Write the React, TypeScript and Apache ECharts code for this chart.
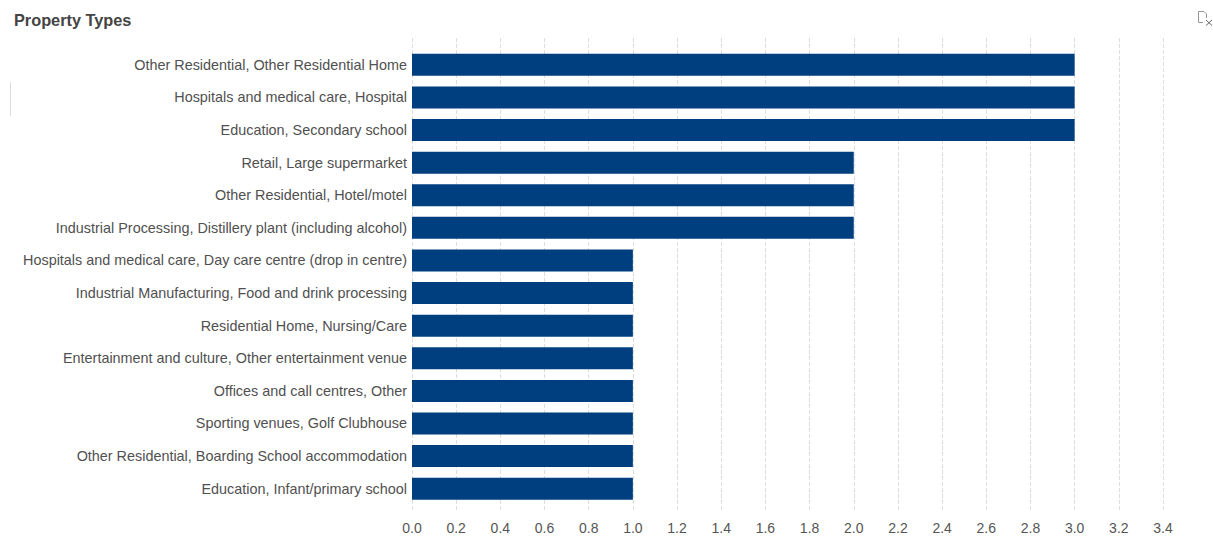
import React, { useEffect, useRef } from "react";
import * as echarts from "echarts";

const categories = [
  "Other Residential, Other Residential Home",
  "Hospitals and medical care, Hospital",
  "Education, Secondary school",
  "Retail, Large supermarket",
  "Other Residential, Hotel/motel",
  "Industrial Processing, Distillery plant (including alcohol)",
  "Hospitals and medical care, Day care centre (drop in centre)",
  "Industrial Manufacturing, Food and drink processing",
  "Residential Home, Nursing/Care",
  "Entertainment and culture, Other entertainment venue",
  "Offices and call centres, Other",
  "Sporting venues, Golf Clubhouse",
  "Other Residential, Boarding School accommodation",
  "Education, Infant/primary school",
];
const values = [3, 3, 3, 2, 2, 2, 1, 1, 1, 1, 1, 1, 1, 1];
const title = "Property Types";
const FONT = '"Liberation Sans", Arial, sans-serif';

export default function App() {
  const ref = useRef<HTMLDivElement>(null);
  useEffect(() => {
    const chart = echarts.init(ref.current!, undefined, { renderer: "svg" });
    chart.setOption({
      animation: false,
      backgroundColor: "#ffffff",
      title: {
        text: title,
        left: 14,
        top: 12,
        padding: 0,
        textStyle: { fontFamily: FONT, fontSize: 16.3, fontWeight: "bold", color: "#444444" },
      },
      grid: [
        { left: 412, right: 50, top: 48.5, bottom: 32 },
        { left: 412, right: 50, top: 38, bottom: 26 },
      ],
      xAxis: [
        {
          gridIndex: 1,
          type: "value",
          min: 0,
          max: 3.4,
          interval: 0.2,
          axisLine: { show: false },
          axisTick: { show: false },
          axisLabel: {
            margin: 10,
            fontFamily: FONT,
            fontSize: 14,
            color: "#555555",
            formatter: (v: number) => v.toFixed(1),
          },
          splitLine: { show: true, lineStyle: { color: "#dddddd", type: "dashed", width: 1 } },
        },
        { gridIndex: 0, type: "value", min: 0, max: 3.4, show: false },
      ],
      yAxis: [
        {
          gridIndex: 0,
          type: "category",
          inverse: true,
          data: categories,
          axisLine: { show: false },
          axisTick: { show: false },
          splitLine: { show: false },
          axisLabel: {
            margin: 5,
            padding: [2, 0, 0, 0],
            fontFamily: FONT,
            fontSize: 14.4,
            color: "#505050",
          },
        },
        { gridIndex: 1, type: "value", show: false, min: 0, max: 1 },
      ],
      series: [
        {
          type: "bar",
          xAxisIndex: 1,
          yAxisIndex: 0,
          data: values,
          barWidth: 22,
          z: 3,
          itemStyle: { color: "#003f7f" },
        },
      ],
      graphic: [
        {
          type: "line",
          shape: { x1: 10.5, y1: 82, x2: 10.5, y2: 116 },
          style: { stroke: "#dddddd", lineWidth: 1 },
        },
        {
          type: "polyline",
          shape: { points: [[1203, 22.5], [1198.5, 22.5], [1198.5, 11.5], [1204, 11.5], [1206.5, 14], [1206.5, 18]] },
          style: { stroke: "#999999", lineWidth: 1, fill: "none" },
        },
        {
          type: "line",
          shape: { x1: 1206, y1: 20, x2: 1212, y2: 25.5 },
          style: { stroke: "#666666", lineWidth: 1 },
        },
        {
          type: "line",
          shape: { x1: 1212, y1: 20, x2: 1206, y2: 25.5 },
          style: { stroke: "#666666", lineWidth: 1 },
        },
      ],
    });
    return () => chart.dispose();
  }, []);
  return <div ref={ref} style={{ position: "absolute", left: 0, top: 0, width: 1213, height: 537 }} />;
}
